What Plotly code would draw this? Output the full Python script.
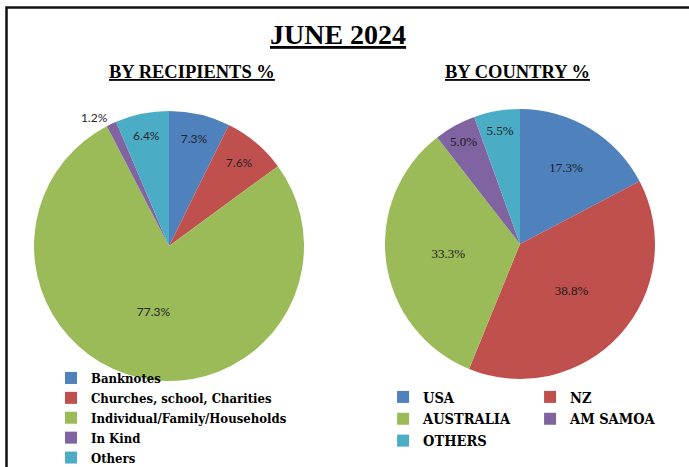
import plotly.graph_objects as go

W, H = 689, 467
ML, MR = 0, 12  # plot-area margins (px)

# ---- data ----
recip_labels = ["Banknotes", "Churches, school, Charities", "Individual/Family/Households", "In Kind", "Others"]
recip_values = [7.3, 7.6, 77.3, 1.2, 6.4]

country_labels = ["USA", "NZ", "AUSTRALIA", "AM SAMOA", "OTHERS"]
country_values = [17.3, 38.8, 33.3, 5.0, 5.5]

colors = ["#4F81BD", "#C0504D", "#9BBB59", "#8064A2", "#4BACC6"]

main_title = "JUNE 2024"
sub_titles = ["BY RECIPIENTS %", "BY COUNTRY %"]

PW = W - ML - MR

def px_x(v):
    return (v - ML) / PW

def px_y(v):
    return (H - v) / H

fig = go.Figure()

r = 135
c1 = (169, 246)
c2 = (520, 244)

fig.add_trace(go.Pie(
    labels=["<b>" + s + "</b>" for s in recip_labels], values=recip_values,
    sort=False, direction="clockwise", rotation=0,
    marker=dict(colors=colors, line=dict(width=0)),
    texttemplate="%{value:.1f}%",
    textposition=["inside", "inside", "inside", "outside", "inside"],
    insidetextorientation="horizontal",
    textfont=dict(family="Lato, Liberation Sans, sans-serif", size=12, color="#262626"),
    domain=dict(x=[px_x(c1[0] - r), px_x(c1[0] + r)], y=[px_y(c1[1] + r), px_y(c1[1] - r)]),
    legend="legend",
    hoverinfo="label+value",
))

fig.add_trace(go.Pie(
    labels=["<b>" + s + "</b>" for s in country_labels], values=country_values,
    sort=False, direction="clockwise", rotation=0,
    marker=dict(colors=colors, line=dict(width=0)),
    texttemplate="%{value:.1f}%",
    textposition="inside",
    insidetextorientation="horizontal",
    textfont=dict(family="Liberation Serif, serif", size=13, color="#1a1a1a"),
    domain=dict(x=[px_x(c2[0] - r), px_x(c2[0] + r)], y=[px_y(c2[1] + r), px_y(c2[1] - r)]),
    legend="legend2",
    hoverinfo="label+value",
))

serif_cond = "DejaVu Serif Condensed, Liberation Serif, serif"

fig.update_layout(
    width=W, height=H,
    margin=dict(l=ML, r=MR, t=0, b=0, autoexpand=False),
    paper_bgcolor="white", plot_bgcolor="white",
    showlegend=True,
    legend=dict(
        x=px_x(51), y=px_y(363), xanchor="left", yanchor="top",
        orientation="v", font=dict(family=serif_cond, size=13, color="#000000"),
        bgcolor="rgba(0,0,0,0)", traceorder="normal", itemclick=False,
    ),
    legend2=dict(
        x=1.0001, y=px_y(381), xanchor="right", yanchor="top",
        orientation="h", entrywidth=102, entrywidthmode="pixels",
        font=dict(family=serif_cond, size=14.5, color="#000000"),
        bgcolor="rgba(0,0,0,0)", traceorder="normal", itemclick=False,
    ),
    annotations=[
        dict(text="<b><span style='text-decoration:underline'>" + main_title + "</span></b>",
             x=px_x(338), y=px_y(34), xref="paper", yref="paper", showarrow=False,
             xanchor="center", yanchor="middle",
             font=dict(family="Liberation Serif, serif", size=28, color="#000000")),
        dict(text="<b><span style='text-decoration:underline'>" + sub_titles[0] + "</span></b>",
             x=px_x(192), y=px_y(72), xref="paper", yref="paper", showarrow=False,
             xanchor="center", yanchor="middle",
             font=dict(family="Liberation Serif, serif", size=18.5, color="#000000")),
        dict(text="<b><span style='text-decoration:underline'>" + sub_titles[1] + "</span></b>",
             x=px_x(517), y=px_y(72), xref="paper", yref="paper", showarrow=False,
             xanchor="center", yanchor="middle",
             font=dict(family="Liberation Serif, serif", size=18.5, color="#000000")),
    ],
    shapes=[
        dict(type="rect", xref="paper", yref="paper",
             x0=px_x(6.5), x1=1.1, y0=-0.05, y1=px_y(7.5),
             line=dict(color="#111111", width=2.5), fillcolor="rgba(0,0,0,0)"),
    ],
)

fig.write_html("out.html", config={"displayModeBar": False},
               post_script="document.body.style.margin='0';")
